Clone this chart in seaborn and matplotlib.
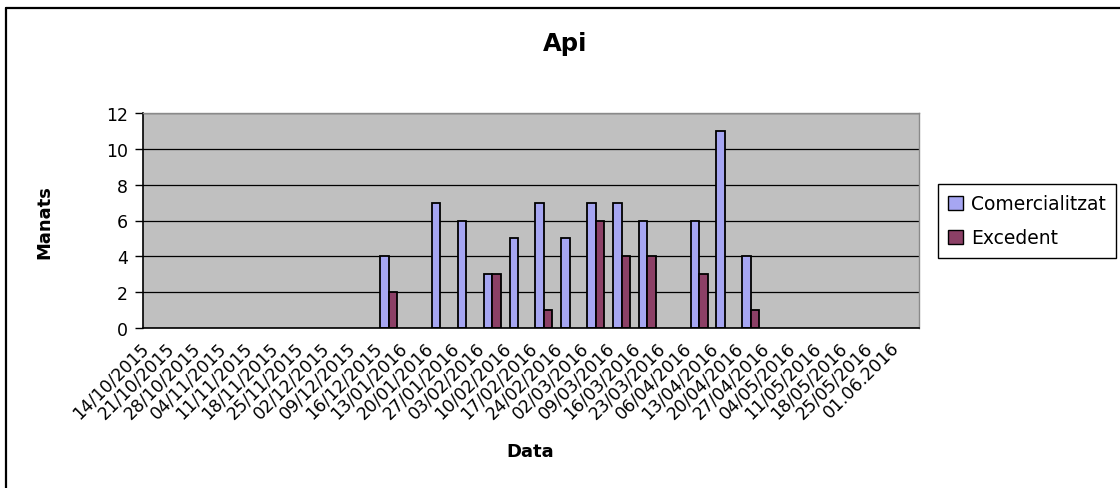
import numpy as np
import pandas as pd
import matplotlib
matplotlib.use("Agg")
import matplotlib.pyplot as plt
import seaborn as sns
from matplotlib.transforms import ScaledTranslation
from matplotlib.lines import Line2D

dates = ["14/10/2015", "21/10/2015", "28/10/2015", "04/11/2015", "11/11/2015",
         "18/11/2015", "25/11/2015", "02/12/2015", "09/12/2015", "16/12/2015",
         "13/01/2016", "20/01/2016", "27/01/2016", "03/02/2016", "10/02/2016",
         "17/02/2016", "24/02/2016", "02/03/2016", "09/03/2016", "16/03/2016",
         "23/03/2016", "06/04/2016", "13/04/2016", "20/04/2016", "27/04/2016",
         "04/05/2016", "11/05/2016", "18/05/2016", "25/05/2016", "01.06.2016"]
nan = np.nan
comercialitzat = [nan, nan, nan, nan, nan, nan, nan, nan, nan, 4,
                  nan, 7, 6, 3, 5, 7, 5, 7, 7, 6,
                  nan, 6, 11, 4, nan, nan, nan, nan, nan, nan]
excedent = [nan, nan, nan, nan, nan, nan, nan, nan, nan, 2,
            nan, nan, nan, 3, nan, 1, nan, 6, 4, 4,
            nan, 3, nan, 1, nan, nan, nan, nan, nan, nan]
series_names = ["Comercialitzat", "Excedent"]
yticks = [0, 2, 4, 6, 8, 10, 12]

df = pd.DataFrame({
    "Data": dates * 2,
    "Manats": comercialitzat + excedent,
    "Serie": [series_names[0]] * len(dates) + [series_names[1]] * len(dates),
})

sns.set_style("white")
plt.rcParams["font.family"] = ["DejaVu Sans"]
plt.rcParams["text.color"] = "black"
plt.rcParams["xtick.color"] = "black"
plt.rcParams["ytick.color"] = "black"
plt.rcParams["axes.labelcolor"] = "black"

W, H = 1120, 489
fig = plt.figure(figsize=(W / 100, H / 100), dpi=100)
ax = fig.add_axes([143 / W, 1 - 329 / H, 776 / W, 215 / H])
ax.set_facecolor("#C0C0C0")

sns.barplot(data=df, x="Data", y="Manats", hue="Serie", order=dates,
            hue_order=series_names, palette=["#9999FF", "#993366"],
            width=0.66, edgecolor="black", linewidth=1.3, errorbar=None,
            ax=ax)

ax.set_xlim(-0.5, len(dates) - 0.5)
ax.set_ylim(0, 12)
ax.set_yticks(yticks)
ax.set_yticklabels([str(v) for v in yticks], fontsize=12.5)
ax.yaxis.grid(True, color="black", linewidth=0.9)
ax.set_axisbelow(True)

ax.set_xticks(range(len(dates)))
ax.set_xticks(np.arange(-0.5, len(dates), 1.0), minor=True)
ax.tick_params(axis="x", which="major", length=0, pad=12)
ax.tick_params(axis="x", which="minor", length=5, width=1, color="black", direction="out")
ax.tick_params(axis="y", length=6, width=1, color="black", direction="out", pad=5, left=True)
ax.set_xticklabels(dates, fontsize=12.5, rotation=45, ha="right", va="center",
                   rotation_mode="anchor")
offset = ScaledTranslation(-10 / 100, 0, fig.dpi_scale_trans)
for lab in ax.get_xticklabels():
    lab.set_transform(lab.get_transform() + offset)

ax.set_xlabel("")
ax.set_ylabel("")
for s in ["left", "bottom"]:
    ax.spines[s].set_color("black")
    ax.spines[s].set_linewidth(1.2)
for s in ["top", "right"]:
    ax.spines[s].set_color("#8a8a8a")
    ax.spines[s].set_linewidth(1.0)

handles, labels = ax.get_legend_handles_labels()
ax.legend(handles, labels, loc="upper left", bbox_to_anchor=(938 / W, 1 - 185 / H),
          bbox_transform=fig.transFigure, fontsize=13.5, frameon=True, fancybox=False,
          edgecolor="black", framealpha=1, handlelength=0.8, handleheight=0.8,
          handletextpad=0.4, borderpad=0.55, labelspacing=0.8, borderaxespad=0)
leg = ax.get_legend()
leg.get_frame().set_linewidth(1.0)
for p in leg.get_patches():
    p.set_edgecolor("black")
    p.set_linewidth(1.0)
for t in leg.get_texts():
    t.set_color("black")

fig.text(565 / W, 1 - 44 / H, "Api", ha="center", va="center", fontsize=17.5,
         fontweight="bold", color="black")
fig.text(44.5 / W, 1 - 222 / H, "Manats", ha="center", va="center", rotation=90,
         fontsize=13, fontweight="bold", color="black")
fig.text(530 / W, 1 - 452 / H, "Data", ha="center", va="center", fontsize=13,
         fontweight="bold", color="black")

fig.add_artist(Line2D([6 / W, 6 / W], [0, 1 - 9 / H], color="black", lw=1.6,
                      transform=fig.transFigure))
fig.add_artist(Line2D([6 / W, 1], [1 - 9 / H, 1 - 9 / H], color="black", lw=1.6,
                      transform=fig.transFigure))

fig.savefig("out.png", dpi=100)
